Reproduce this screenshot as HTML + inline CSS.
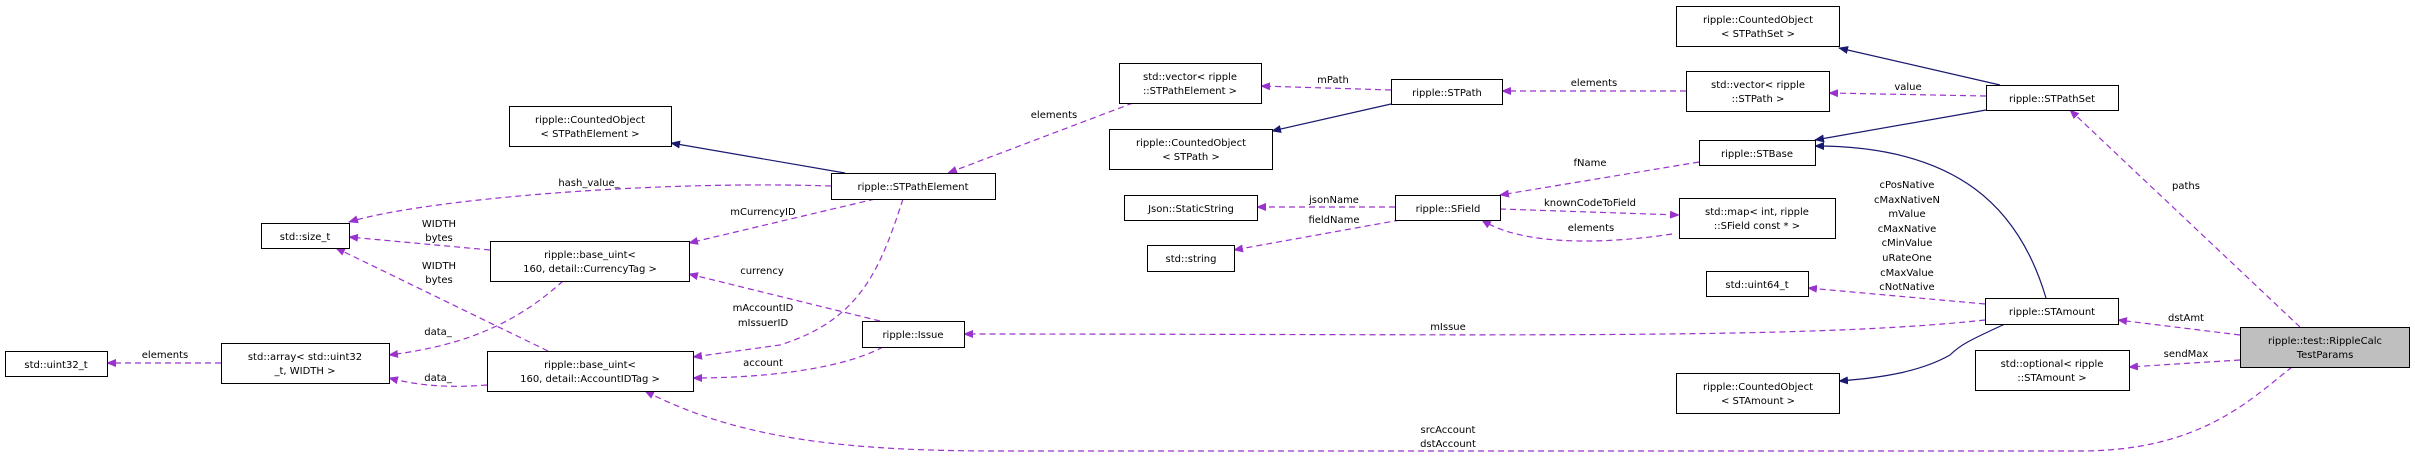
<!DOCTYPE html>
<html><head><meta charset="utf-8"><style>
html,body{margin:0;padding:0;background:#fff;}
svg text{font-family:"DejaVu Sans","Liberation Sans",sans-serif;font-size:10px;fill:#000;}
</style></head><body>
<svg width="2415" height="457" viewBox="0 0 2415 457" xmlns="http://www.w3.org/2000/svg">
<defs>
<marker id="p" markerWidth="10" markerHeight="8" refX="9" refY="4" orient="auto" markerUnits="userSpaceOnUse"><path d="M0,0 L10,4 L0,8 z" fill="#9a32cd"/></marker>
<marker id="n" markerWidth="10" markerHeight="8" refX="9" refY="4" orient="auto" markerUnits="userSpaceOnUse"><path d="M0,0 L10,4 L0,8 z" fill="#191970"/></marker>
</defs>
<g fill="none" stroke="#9a32cd" stroke-width="1.2" stroke-dasharray="6,4" marker-end="url(#p)">
<path d="M221,363 L107,363"/>
<path d="M563,281 C520,320 470,345 389,355"/>
<path d="M487,385 C450,388 420,386 389,378"/>
<path d="M490,250 L349,237"/>
<path d="M548,351 L336,248"/>
<path d="M831,186 C650,180 420,200 349,222"/>
<path d="M875,199 L689,243"/>
<path d="M903,199 C880,270 860,320 780,345 L693,357"/>
<path d="M880,321 L689,274"/>
<path d="M883,347 C840,370 760,378 693,378"/>
<path d="M1133,103 L948,173"/>
<path d="M1391,90 L1261,86"/>
<path d="M1686,91 L1502,91"/>
<path d="M1986,96 L1829,93"/>
<path d="M1699,162 L1500,195"/>
<path d="M1395,207 L1257,207"/>
<path d="M1400,220 L1234,250"/>
<path d="M1500,209 L1679,215"/>
<path d="M1672,234 C1600,245 1520,245 1482,220"/>
<path d="M1985,304 L1808,288"/>
<path d="M1985,320 C1800,340 1500,334 964,334"/>
<path d="M2300,327 L2070,110"/>
<path d="M2240,335 L2118,320"/>
<path d="M2240,360 L2129,367"/>
<path d="M2292,367 C2250,400 2200,451 2080,451 L1000,451 C850,451 740,440 645,391"/>
</g>
<g fill="none" stroke="#191970" stroke-width="1.2" marker-end="url(#n)">
<path d="M845,173 L671,143"/>
<path d="M1391,104 L1272,131"/>
<path d="M2000,85 L1839,48"/>
<path d="M1986,110 L1815,140"/>
<path d="M2046,298 C2020,210 1960,146 1815,146"/>
<path d="M2005,324 C1970,340 1960,345 1950,355 C1920,372 1880,378 1839,381"/>
</g>
<g fill="#fff" stroke="#000" stroke-width="1">
<rect x="5.5" y="351.5" width="102" height="25"/>
<rect x="221.5" y="343.5" width="168" height="40"/>
<rect x="261.5" y="223.5" width="88" height="25"/>
<rect x="509.5" y="106.5" width="162" height="40"/>
<rect x="490.5" y="241.5" width="199" height="40"/>
<rect x="487.5" y="351.5" width="206" height="40"/>
<rect x="831.5" y="173.5" width="164" height="26"/>
<rect x="1119.5" y="63.5" width="142" height="40"/>
<rect x="1109.5" y="129.5" width="163" height="40"/>
<rect x="1391.5" y="79.5" width="111" height="25"/>
<rect x="1124.5" y="195.5" width="133" height="25"/>
<rect x="1395.5" y="195.5" width="105" height="25"/>
<rect x="1147.5" y="245.5" width="87" height="26"/>
<rect x="862.5" y="321.5" width="102" height="26"/>
<rect x="1676.5" y="6.5" width="163" height="40"/>
<rect x="1686.5" y="71.5" width="143" height="40"/>
<rect x="1986.5" y="85.5" width="132" height="25"/>
<rect x="1699.5" y="140.5" width="116" height="25"/>
<rect x="1679.5" y="198.5" width="156" height="40"/>
<rect x="1706.5" y="271.5" width="102" height="25"/>
<rect x="1985.5" y="298.5" width="133" height="26"/>
<rect x="1676.5" y="373.5" width="163" height="40"/>
<rect x="1975.5" y="350.5" width="154" height="40"/>
<rect x="2240.5" y="327.5" width="169" height="40" fill="#bfbfbf"/>
</g>
<g text-anchor="middle">
<text x="56" y="368">std::uint32_t</text>
<text x="305" y="360">std::array&lt; std::uint32</text><text x="305" y="374">_t, WIDTH &gt;</text>
<text x="305" y="240">std::size_t</text>
<text x="590" y="123">ripple::CountedObject</text><text x="590" y="137">&lt; STPathElement &gt;</text>
<text x="590" y="258">ripple::base_uint&lt;</text><text x="590" y="272">160, detail::CurrencyTag &gt;</text>
<text x="590" y="368">ripple::base_uint&lt;</text><text x="590" y="382">160, detail::AccountIDTag &gt;</text>
<text x="913" y="190">ripple::STPathElement</text>
<text x="1190" y="80">std::vector&lt; ripple</text><text x="1190" y="94">::STPathElement &gt;</text>
<text x="1191" y="146">ripple::CountedObject</text><text x="1191" y="160">&lt; STPath &gt;</text>
<text x="1447" y="96">ripple::STPath</text>
<text x="1191" y="212">Json::StaticString</text>
<text x="1448" y="212">ripple::SField</text>
<text x="1191" y="262">std::string</text>
<text x="913" y="338">ripple::Issue</text>
<text x="1758" y="23">ripple::CountedObject</text><text x="1758" y="37">&lt; STPathSet &gt;</text>
<text x="1758" y="88">std::vector&lt; ripple</text><text x="1758" y="102">::STPath &gt;</text>
<text x="2052" y="102">ripple::STPathSet</text>
<text x="1757" y="157">ripple::STBase</text>
<text x="1757" y="215">std::map&lt; int, ripple</text><text x="1757" y="229">::SField const * &gt;</text>
<text x="1757" y="288">std::uint64_t</text>
<text x="2052" y="315">ripple::STAmount</text>
<text x="1758" y="390">ripple::CountedObject</text><text x="1758" y="404">&lt; STAmount &gt;</text>
<text x="2052" y="367">std::optional&lt; ripple</text><text x="2052" y="381">::STAmount &gt;</text>
<text x="2325" y="344">ripple::test::RippleCalc</text><text x="2325" y="358">TestParams</text>
<!-- edge labels -->
<text x="165" y="358">elements</text>
<text x="438" y="335">data_</text>
<text x="438" y="381">data_</text>
<text x="439" y="227">WIDTH</text><text x="439" y="241">bytes</text>
<text x="439" y="269">WIDTH</text><text x="439" y="283">bytes</text>
<text x="589" y="186">hash_value_</text>
<text x="763" y="215">mCurrencyID</text>
<text x="762" y="274">currency</text>
<text x="763" y="311">mAccountID</text><text x="763" y="326">mIssuerID</text>
<text x="763" y="366">account</text>
<text x="1054" y="118">elements</text>
<text x="1333" y="83">mPath</text>
<text x="1334" y="203">jsonName</text>
<text x="1334" y="223">fieldName</text>
<text x="1448" y="330">mIssue</text>
<text x="1448" y="433">srcAccount</text><text x="1448" y="447">dstAccount</text>
<text x="1594" y="86">elements</text>
<text x="1908" y="90">value</text>
<text x="1590" y="166">fName</text>
<text x="1590" y="206">knownCodeToField</text>
<text x="1591" y="231">elements</text>
<text x="1907" y="188">cPosNative</text>
<text x="1907" y="203">cMaxNativeN</text>
<text x="1907" y="217">mValue</text>
<text x="1907" y="232">cMaxNative</text>
<text x="1907" y="246">cMinValue</text>
<text x="1907" y="261">uRateOne</text>
<text x="1907" y="276">cMaxValue</text>
<text x="1907" y="290">cNotNative</text>
<text x="2186" y="189">paths</text>
<text x="2186" y="321">dstAmt</text>
<text x="2186" y="357">sendMax</text>
</g>
</svg>
</body></html>
